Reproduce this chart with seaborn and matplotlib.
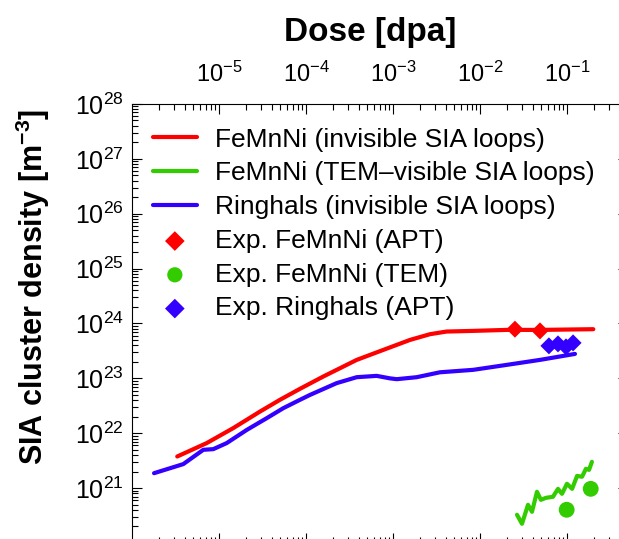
import numpy as np
import pandas as pd
import seaborn as sns
import matplotlib.pyplot as plt
from matplotlib.ticker import LogLocator, NullFormatter

# ---- data (dose in dpa, density in m^-3) ----
femnni_dose = [3.27e-6, 7.13e-6, 1.44e-5, 2.92e-5, 4.95e-5, 8.41e-5, 1.56e-4, 3.78e-4,
               7.64e-4, 1.55e-3, 2.63e-3, 4.08e-3, 8.26e-3, 2.0e-2, 4.83e-2, 0.198]
femnni_inv = [3.77e21, 6.61e21, 1.24e22, 2.48e22, 4.06e22, 6.44e22, 1.08e23, 2.17e23,
              3.30e23, 5.02e23, 6.38e23, 7.13e23, 7.33e23, 7.64e23, 7.64e23, 7.87e23]

tem_dose = [2.63e-2, 3.0e-2, 3.52e-2, 3.91e-2, 4.46e-2, 4.95e-2, 5.66e-2, 6.81e-2, 7.78e-2,
            8.65e-2, 9.86e-2, 0.113, 0.129, 0.147, 0.163, 0.177, 0.191]
tem_vis = [3.27e20, 2.24e20, 4.97e20, 3.70e20, 8.57e20, 6.12e20, 6.65e20, 6.95e20, 9.70e20,
           7.87e20, 1.20e21, 9.70e20, 1.67e21, 1.61e21, 2.25e21, 2.15e21, 3.01e21]

ring_dose = [1.77e-6, 3.84e-6, 6.52e-6, 8.49e-6, 1.21e-5, 2.06e-5, 3.49e-5, 5.41e-5, 8.41e-5,
             1.10e-4, 2.22e-4, 3.78e-4, 6.41e-4, 9.12e-4, 1.09e-3, 1.85e-3, 3.42e-3, 8.26e-3,
             2.0e-2, 4.83e-2, 0.122]
ring_inv = [1.87e21, 2.74e21, 4.99e21, 5.13e21, 6.61e21, 1.15e22, 1.88e22, 2.86e22, 4.06e22,
            5.0e22, 8.18e22, 1.05e23, 1.11e23, 1.0e23, 9.66e22, 1.05e23, 1.29e23, 1.43e23,
            1.76e23, 2.17e23, 2.79e23]

exp_femnni_apt_dose = [2.49e-2, 4.83e-2]
exp_femnni_apt = [7.87e23, 7.33e23]
exp_femnni_tem_dose = [9.79e-2, 0.185]
exp_femnni_tem = [4.03e20, 9.70e20]
exp_ring_apt_dose = [6.12e-2, 7.78e-2, 9.62e-2, 0.116]
exp_ring_apt = [3.91e23, 4.25e23, 3.75e23, 4.43e23]

RED, GREEN, BLUE = '#ff0000', '#33cc00', '#3300ff'

sns.set_style('ticks')
plt.rcParams['font.family'] = ['Liberation Sans', 'DejaVu Sans']
plt.rcParams['mathtext.fontset'] = 'custom'
plt.rcParams['mathtext.rm'] = 'Liberation Sans'
plt.rcParams['mathtext.bf'] = 'Liberation Sans:bold'
plt.rcParams['mathtext.default'] = 'regular'
for key in ['text.color', 'axes.labelcolor', 'xtick.color', 'ytick.color', 'axes.edgecolor']:
    plt.rcParams[key] = 'black'

fig = plt.figure(figsize=(6.19, 5.39), dpi=100)
ax = fig.add_axes([0.214, -0.0074, 0.801, 0.8145])

lines = [(femnni_dose, femnni_inv, RED, 'FeMnNi (invisible SIA loops)'),
         (tem_dose, tem_vis, GREEN, 'FeMnNi (TEM\u2013visible SIA loops)'),
         (ring_dose, ring_inv, BLUE, 'Ringhals (invisible SIA loops)')]
for xs, ys, c, lab in lines:
    sns.lineplot(x=xs, y=ys, color=c, linewidth=3, estimator=None, ax=ax, label=lab)

pts = [(exp_femnni_apt_dose, exp_femnni_apt, RED, 'D', 75, 'Exp. FeMnNi (APT)'),
       (exp_femnni_tem_dose, exp_femnni_tem, GREEN, 'o', 130, 'Exp. FeMnNi (TEM)'),
       (exp_ring_apt_dose, exp_ring_apt, BLUE, 'D', 75, 'Exp. Ringhals (APT)')]
for xs, ys, c, m, s, lab in pts:
    sns.scatterplot(x=xs, y=ys, color=c, marker=m, s=s, edgecolor='none', ax=ax, label=lab)

ax.set_xscale('log')
ax.set_yscale('log')
ax.set_xlim(1e-6, 0.5)
ax.set_ylim(1e20, 1e28)

ax.xaxis.set_major_locator(LogLocator(base=10, numticks=20))
ax.xaxis.set_minor_locator(LogLocator(base=10, subs=np.arange(2, 10), numticks=20))
ax.yaxis.set_major_locator(LogLocator(base=10, numticks=20))
ax.yaxis.set_minor_locator(LogLocator(base=10, subs=np.arange(2, 10), numticks=20))
ax.xaxis.set_minor_formatter(NullFormatter())
ax.yaxis.set_minor_formatter(NullFormatter())
ax.set_xticks([1e-5, 1e-4, 1e-3, 1e-2, 1e-1])
ax.set_yticks([10.0 ** k for k in range(21, 29)])

ax.tick_params(which='both', direction='in', top=True, bottom=True, left=True, right=True,
               labeltop=True, labelbottom=False, width=0.8, color='black', labelcolor='black')
ax.tick_params(which='major', length=7)
ax.tick_params(which='minor', length=4)
ax.tick_params(axis='x', which='major', pad=12, labelsize=17)
ax.tick_params(axis='y', which='major', pad=6, labelsize=18)
for sp in ax.spines.values():
    sp.set_linewidth(0.8)
    sp.set_color('black')
    sp.set_visible(True)

ax.set_xlabel('Dose [dpa]', fontsize=24, fontweight='bold', color='black')
ax.xaxis.set_label_position('top')
ax.xaxis.set_label_coords(0.479, 1.1435)
ax.set_ylabel('SIA cluster density [m$^{\\mathbf{-3}}$]', fontsize=22, fontweight='bold',
              color='black')
ax.yaxis.set_label_coords(-0.163, 0.584)

leg = ax.legend(loc='upper left', bbox_to_anchor=(0.041, 0.946), frameon=False, fontsize=19,
                borderpad=0, borderaxespad=0, handlelength=1.67, handletextpad=0.68,
                labelspacing=0.37)
for t in leg.get_texts():
    t.set_color('black')
leg.legend_handles[3].set_sizes([100])
leg.legend_handles[4].set_sizes([120])
leg.legend_handles[5].set_sizes([100])

fig.savefig('out.png', dpi=100)
